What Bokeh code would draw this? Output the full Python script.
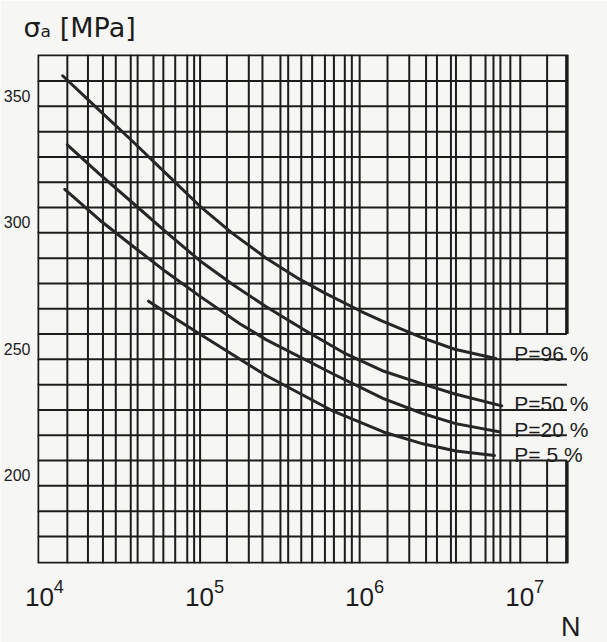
from bokeh.plotting import figure
from bokeh.models import Range1d, FixedTicker, Label, Title
from bokeh.embed import file_html
from bokeh.resources import INLINE

# ---- data ----
decade_ticks = [1e4, 1e5, 1e6, 1e7]
sigma_ticks = [200, 250, 300, 350]
grid_sigma = [180, 190, 200, 210, 220, 230, 240, 250, 260, 270, 280,
              290, 300, 310, 320, 330, 340, 350, 360]
grid_N = [1.39e4, 1.87e4, 2.32e4, 2.79e4, 3.46e4, 3.82e4, 4.80e4, 5.53e4,
          6.56e4, 7.80e4, 8.61e4, 9.38e4,
          1.38e5, 1.89e5, 2.30e5, 2.98e5, 3.33e5, 4.02e5, 4.70e5, 5.65e5,
          6.43e5, 7.52e5, 8.32e5, 9.31e5,
          1.39e6, 1.90e6, 2.42e6, 2.83e6, 3.46e6, 3.72e6, 4.60e6, 5.69e6,
          6.38e6, 7.05e6, 8.13e6, 9.38e6,
          1.38e7]

N_p96 = [1.30e4, 2.18e4, 3.51e4, 5.65e4, 9.23e4, 1.48e5, 2.39e5, 3.89e5,
         5.65e5, 9.62e5, 1.28e6, 2.28e6, 3.65e6, 6.60e6]
S_p96 = [362.1, 348.7, 336.5, 323.9, 310.9, 300.0, 290.3, 281.8,
         276.2, 268.8, 265.2, 258.6, 254.0, 250.3]

N_p50 = [1.39e4, 2.20e4, 3.55e4, 5.71e4, 9.31e4, 1.50e5, 2.40e5, 4.28e5,
         7.41e5, 1.29e6, 2.29e6, 3.67e6, 7.19e6]
S_p50 = [334.8, 323.3, 311.9, 300.5, 289.1, 279.6, 271.0, 261.3,
         252.6, 245.5, 240.3, 236.3, 231.6]

N_p20 = [1.34e4, 2.22e4, 3.57e4, 5.74e4, 9.38e4, 1.67e5, 2.42e5, 6.32e5,
         1.30e6, 2.30e6, 3.70e6, 6.90e6]
S_p20 = [317.2, 305.0, 294.7, 284.6, 274.9, 264.0, 257.8, 244.3,
         234.6, 228.6, 224.6, 221.4]

N_p5 = [4.47e4, 6.31e4, 9.44e4, 2.44e5, 6.37e5, 1.31e6, 2.31e6, 3.71e6, 6.47e6]
S_p5 = [273.0, 266.8, 259.8, 243.5, 229.5, 221.3, 216.6, 213.8, 212.0]

curve_labels = ["P=96 %", "P=50 %", "P=20 %", "P= 5  %"]
curve_label_levels = [250, 230, 220, 210]

# ---- layout constants ----
N_MIN, N_MAX = 9050, 1.834e7        # drawn chart border
S_MIN, S_MAX = 169.3, 370.5
BG = "#f6f6f4"
INK = "#1c1c1c"

p = figure(width=607, height=642, x_axis_type="log",
           x_range=Range1d(N_MIN, 3.289e7), y_range=Range1d(S_MIN, S_MAX),
           output_backend="svg", toolbar_location=None,
           min_border_left=32, min_border_right=0,
           min_border_top=54, min_border_bottom=73)
p.title.visible = False
p.background_fill_color = BG
p.border_fill_color = BG
p.outline_line_color = None

# axes (labels only)
p.xaxis.ticker = FixedTicker(ticks=decade_ticks)
p.yaxis.ticker = FixedTicker(ticks=sigma_ticks)
for ax in (p.xaxis[0], p.yaxis[0]):
    ax.axis_line_color = None
    ax.major_tick_line_color = None
    ax.minor_tick_line_color = None
    ax.major_label_text_color = INK
    ax.major_label_text_font = "Liberation Sans"
p.xaxis.major_label_text_font_size = "26px"
p.xaxis.major_label_standoff = 9
p.yaxis.major_label_text_font_size = "16px"
p.yaxis.major_label_standoff = 1
# the printed values sit just above their grid lines
p.yaxis.major_label_overrides = {v: f"{v}\n" for v in sigma_ticks}
p.xgrid.visible = False
p.ygrid.visible = False

# chart paper grid: vertical lines, border, blank label box, horizontal lines
n_v = len(grid_N)
p.segment(x0=grid_N, x1=grid_N, y0=[S_MIN] * n_v, y1=[S_MAX] * n_v,
          line_color=INK, line_width=2)
p.quad(left=[N_MIN], right=[N_MAX], bottom=[S_MIN], top=[S_MAX],
       fill_color=None, line_color=INK, line_width=3.5)
p.quad(left=[7.67e6], right=[N_MAX + 2e6], bottom=[210], top=[260],
       fill_color=BG, line_color=None)
n_h = len(grid_sigma)
p.segment(x0=[N_MIN] * n_h, x1=[N_MAX] * n_h, y0=grid_sigma, y1=grid_sigma,
          line_color=INK, line_width=2)

# curves
for xs, ys in ((N_p96, S_p96), (N_p50, S_p50), (N_p20, S_p20), (N_p5, S_p5)):
    p.line(xs, ys, line_color="#262626", line_width=3, line_join="round",
           line_cap="round")

# curve labels
for txt, lev in zip(curve_labels, curve_label_levels):
    p.add_layout(Label(x=8.61e6, y=lev + 2.4, text=txt,
                       text_font="Liberation Sans", text_font_size="21px",
                       text_color=INK, text_baseline="alphabetic",
                       text_align="left"))

# axis titles
p.add_layout(Title(text="σₐ [MPa]", align="left", vertical_align="top",
                   offset=-14, standoff=20,
                   text_font="DejaVu Sans", text_font_size="27px",
                   text_font_style="normal", text_color=INK), "above")
p.add_layout(Title(text="N", align="right", offset=27, standoff=2,
                   text_font="Liberation Sans", text_font_size="27px",
                   text_font_style="normal", text_color=INK), "below")

open("out.html", "w").write(file_html(p, INLINE))
